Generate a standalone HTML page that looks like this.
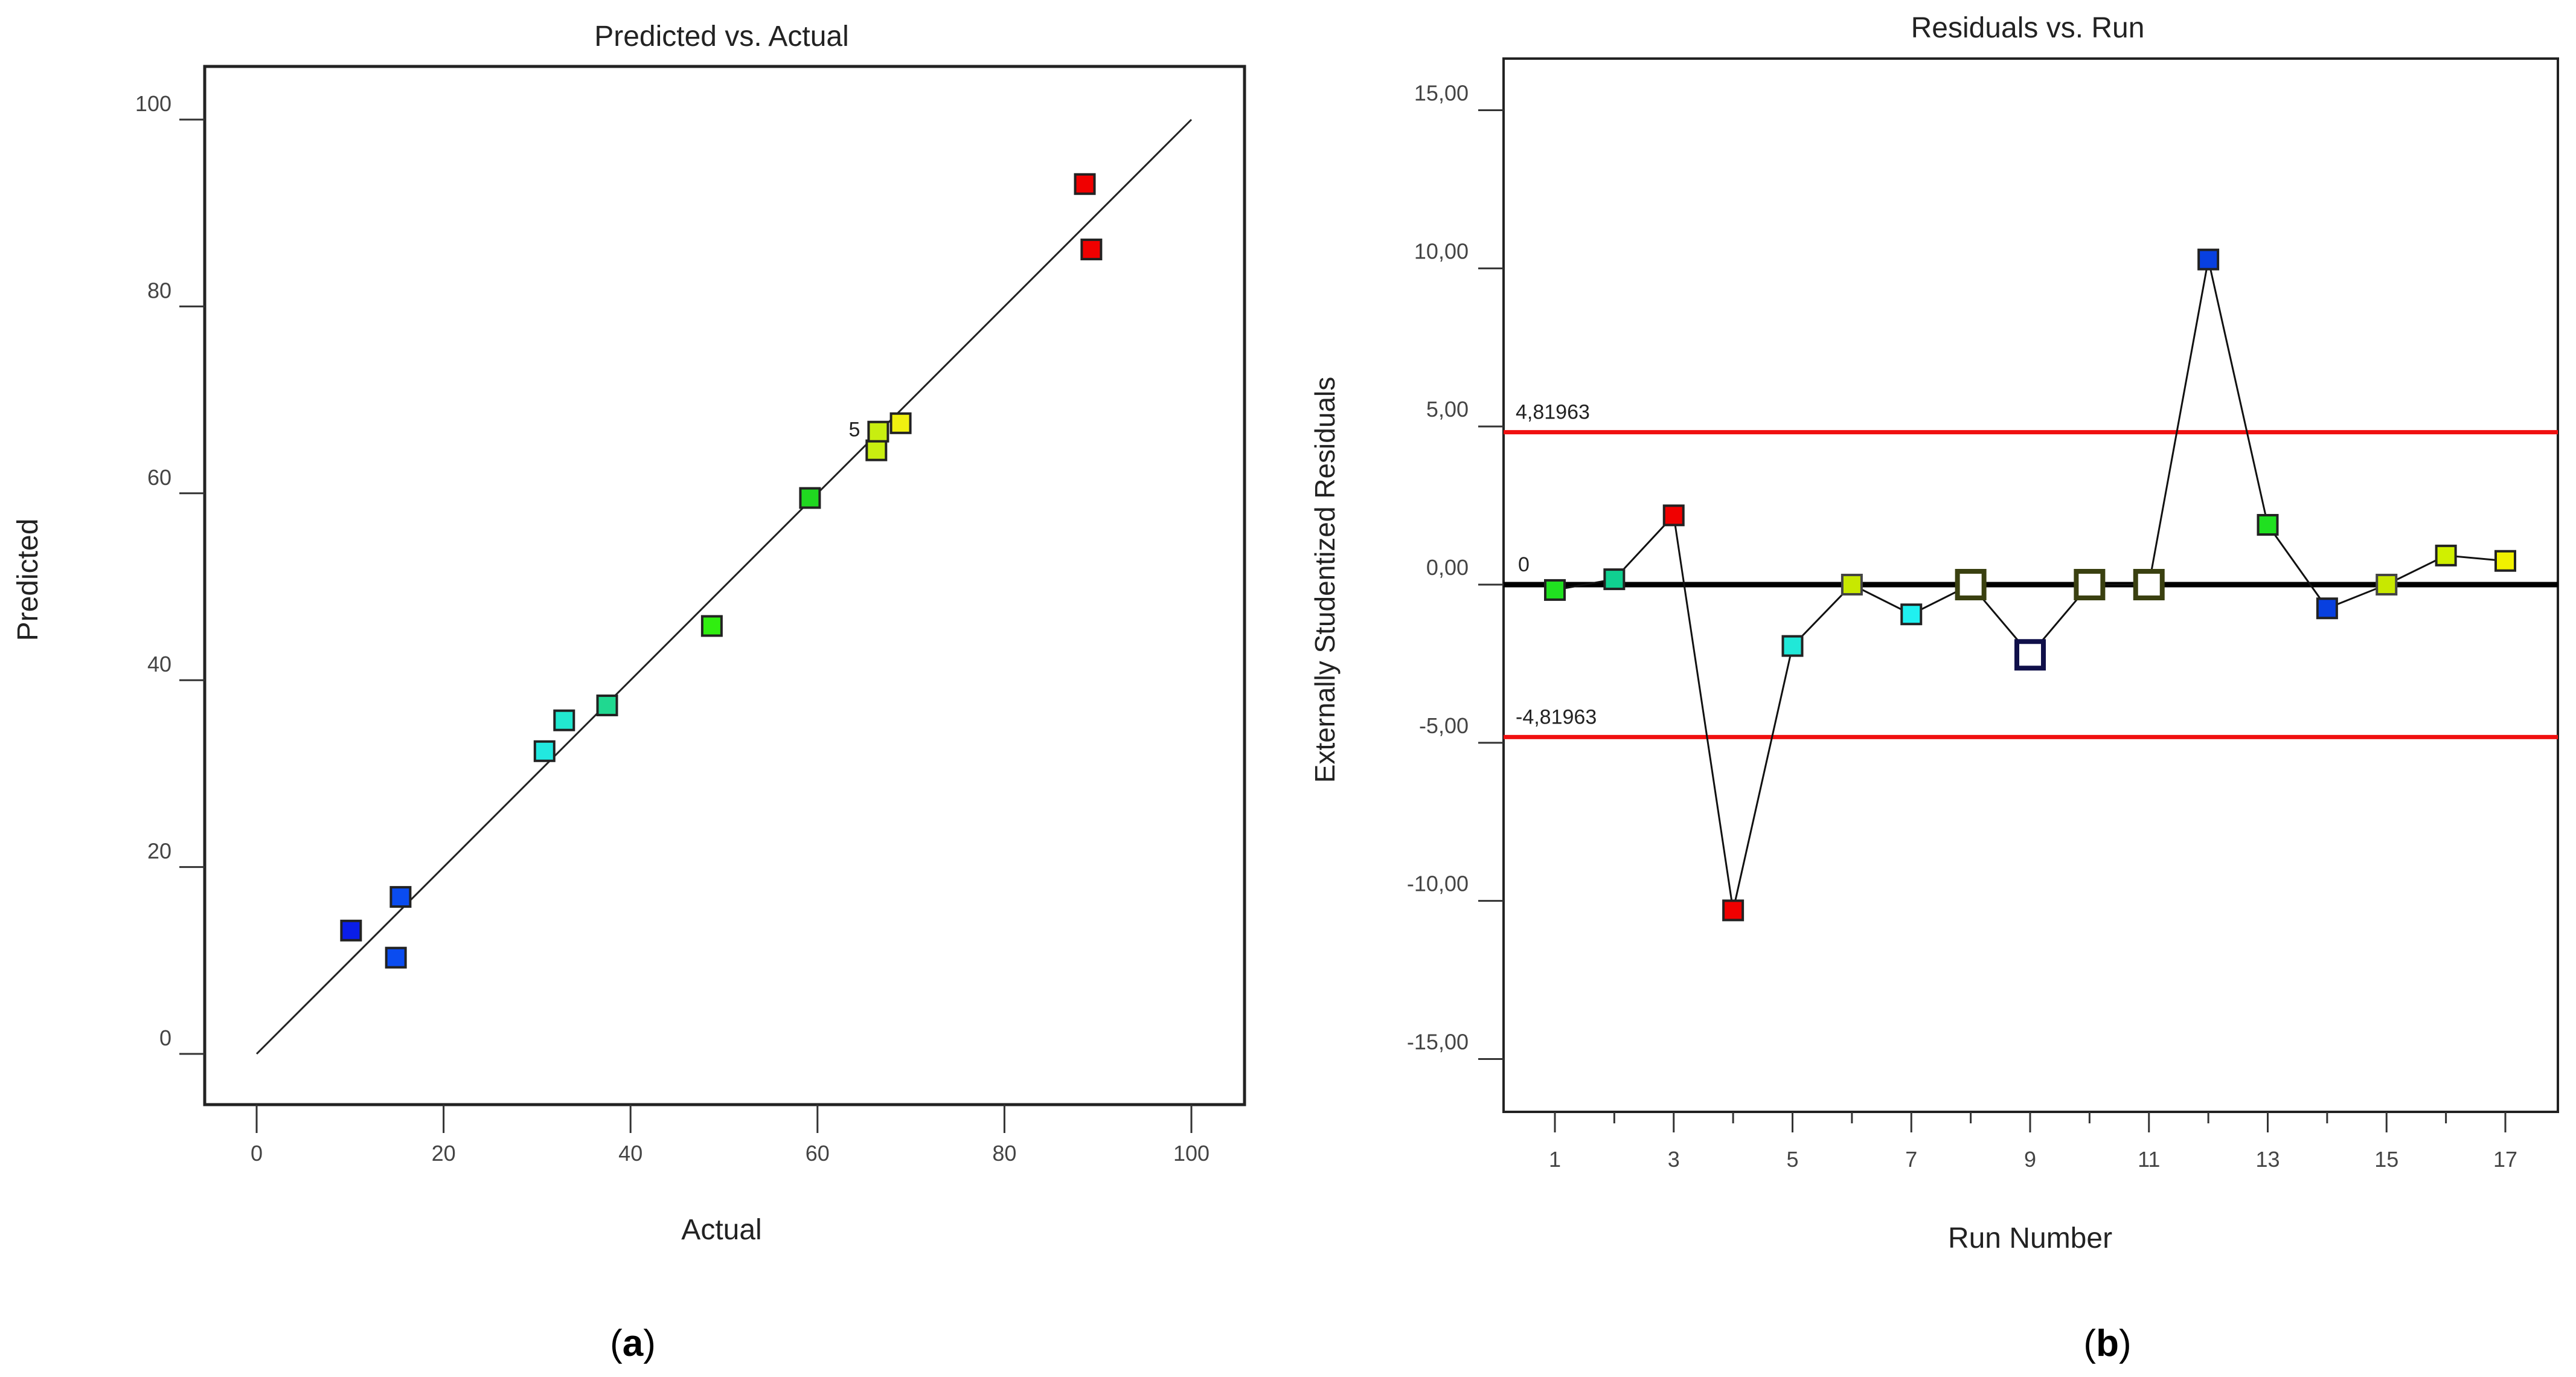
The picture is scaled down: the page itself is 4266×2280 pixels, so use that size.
<!DOCTYPE html>
<html><head><meta charset="utf-8"><style>
body{margin:0;background:#fff;width:4266px;height:2280px;overflow:hidden}
svg{display:block}
text{font-family:"Liberation Sans","DejaVu Sans",sans-serif}
</style></head><body>
<svg id="s" width="4266" height="2280">
<text x="1048" y="2245" font-family="Liberation Serif,serif" font-size="62" text-anchor="middle">(<tspan font-weight="bold">a</tspan>)</text>
<text x="3490" y="2245" font-family="Liberation Serif,serif" font-size="62" text-anchor="middle">(<tspan font-weight="bold">b</tspan>)</text>
</svg>
<script>
// ---- Panel A data ----
const actual = [10.1,14.9,15.4,30.8,32.9,37.5,48.7,59.2,66.3,66.5,68.9,88.6,89.3];
const predicted = [13.2,10.3,16.8,32.4,35.7,37.3,45.8,59.5,64.6,66.6,67.5,93.1,86.1];
const colorsA = ["#0a1ee8","#0a4cf0","#0a4cf0","#22e8e0","#22e8d0","#20d890","#30ee10","#20d820","#c8ee10","#c8ee10","#f0f010","#f00000","#f00000"];
const ticksA = [0,20,40,60,80,100];
// ---- Panel B data ----
const runs = [1,2,3,4,5,6,7,8,9,10,11,12,13,14,15,16,17];
const residuals = [-0.17,0.17,2.19,-10.3,-1.94,0,-0.94,0,-2.22,0,0,10.28,1.89,-0.75,0,0.92,0.75];
const colorsB = ["#20e020","#10d090","#f00000","#f00000","#20e8d8","#c8e800","#20f0f0","#fff","#fff","#fff","#fff","#0840e0","#20e020","#0840e0","#c8e800","#d0f000","#f0f000"];
const edgesB = ["#222","#222","#222","#222","#222","#444","#222","#3a4010","#10104a","#3a4010","#3a4010","#222","#222","#222","#444","#222","#222"];
const ticksBY = [15,10,5,0,-5,-10,-15];
const tickLabelsBY = ["15,00","10,00","5,00","0,00","-5,00","-10,00","-15,00"];
const limit = 4.81963;

const NS="http://www.w3.org/2000/svg", S=document.getElementById('s');
function el(t,a,txt){const e=document.createElementNS(NS,t);for(const k in a)e.setAttribute(k,a[k]);if(txt!==undefined)e.textContent=txt;S.appendChild(e);return e;}

// ===== Panel A =====
const ax=v=>425+(v-0)*(1973-425)/100, ay=v=>1745-(v-0)*(1745-198)/100;
let e;
e=el('rect',{x:339,y:110,width:1722,height:1719,fill:'none',stroke:'#222','stroke-width':5});


e=el('text',{x:1195,y:76,'font-size':48,'text-anchor':'middle',fill:'#222'},'Predicted vs. Actual');


e=el('text',{x:1195,y:2052,'font-size':48,'text-anchor':'middle',fill:'#222'},'Actual');


e=el('text',{x:0,y:0,'font-size':48,'text-anchor':'middle',fill:'#222',transform:'translate(62,960) rotate(-90)'},'Predicted');


ticksA.forEach(t=>{
  e=el('line',{x1:ax(t),x2:ax(t),y1:1829,y2:1876,stroke:'#333','stroke-width':3});
  
  
  e=el('text',{x:ax(t),y:1922,'font-size':36,'text-anchor':'middle',fill:'#444'},t);
  
  
  e=el('line',{x1:297,x2:339,y1:ay(t),y2:ay(t),stroke:'#333','stroke-width':3});
  
  
  e=el('text',{x:284,y:ay(t)-14,'font-size':36,'text-anchor':'end',fill:'#444'},t);
  
  
});
e=el('line',{x1:ax(0),y1:ay(0),x2:ax(100),y2:ay(100),stroke:'#222','stroke-width':3});


actual.forEach((v,i)=>{
  e=el('rect',{x:ax(v)-16,y:ay(predicted[i])-16,width:32,height:32,fill:colorsA[i],stroke:'#222','stroke-width':4});
  
  
});
e=el('text',{x:ax(actual[9])-30,y:ay(predicted[9])+8,'font-size':34,'text-anchor':'end',fill:'#222'},'5');



// ===== Panel B =====
const bx=v=>2575+(v-1)*(4149-2575)/16, by=v=>968-v*(1754-183)/30;
e=el('rect',{x:2490,y:97,width:1746,height:1744,fill:'none',stroke:'#222','stroke-width':4});


e=el('text',{x:3358,y:62,'font-size':48,'text-anchor':'middle',fill:'#222'},'Residuals vs. Run');


e=el('text',{x:3362,y:2066,'font-size':48,'text-anchor':'middle',fill:'#222'},'Run Number');


e=el('text',{x:0,y:0,'font-size':46,'text-anchor':'middle',fill:'#222',transform:'translate(2210,960) rotate(-90)'},'Externally Studentized Residuals');


ticksBY.forEach((t,i)=>{
  e=el('line',{x1:2448,x2:2490,y1:by(t),y2:by(t),stroke:'#333','stroke-width':3});
  
  
  e=el('text',{x:2432,y:by(t)-16,'font-size':36,'text-anchor':'end',fill:'#444'},tickLabelsBY[i]);
  
  
});
runs.forEach(r=>{
  const odd=r%2===1;
  e=el('line',{x1:bx(r),x2:bx(r),y1:1841,y2:odd?1875:1860,stroke:'#333','stroke-width':3});
  
  
  if(odd){
    e=el('text',{x:bx(r),y:1932,'font-size':36,'text-anchor':'middle',fill:'#444'},r);
    
    
  }
});
[limit,-limit].forEach((l,i)=>{
  e=el('line',{x1:2490,x2:4236,y1:by(l),y2:by(l),stroke:'#f01010','stroke-width':7});
  
  
  e=el('text',{x:2510,y:by(l)-22,'font-size':34,fill:'#222'},(l<0?'-':'')+'4,81963');
  
  
});
e=el('line',{x1:2490,x2:4236,y1:by(0),y2:by(0),stroke:'#000','stroke-width':9});


e=el('text',{x:2514,y:by(0)-22,'font-size':34,fill:'#222'},'0');


e=el('polyline',{points:runs.map((r,i)=>bx(r)+','+by(residuals[i])).join(' '),fill:'none',stroke:'#111','stroke-width':3});


runs.forEach((r,i)=>{
  const hollow=colorsB[i]==='#fff', s=hollow?44:32;
  e=el('rect',{x:bx(r)-s/2,y:by(residuals[i])-s/2,width:s,height:s,fill:colorsB[i],stroke:edgesB[i],'stroke-width':hollow?8:4});
  
  
});
</script>
</body></html>
